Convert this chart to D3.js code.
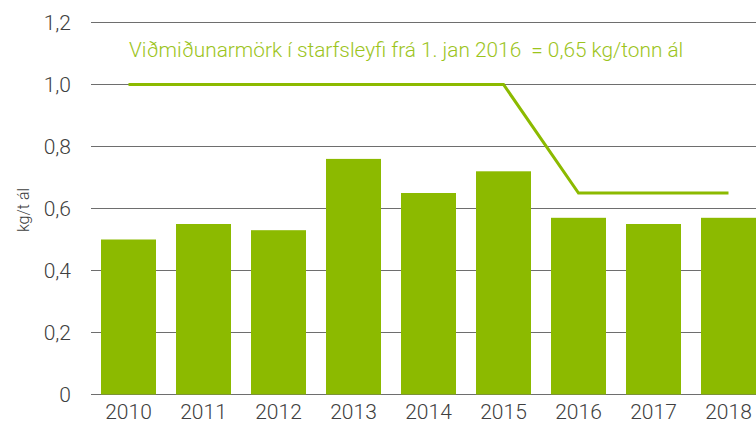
<!DOCTYPE html>
<html>
<head>
<meta charset="utf-8">
<script src="https://cdn.jsdelivr.net/npm/d3@7"></script>
<style>
  body { margin: 0; background: #fff; }
  text { font-family: "Roboto", sans-serif; font-weight: 300; }
</style>
</head>
<body>
<script>
// Data
var years = ["2010", "2011", "2012", "2013", "2014", "2015", "2016", "2017", "2018"];
var values = [0.50, 0.55, 0.53, 0.76, 0.65, 0.72, 0.57, 0.55, 0.57];
var limitYears = ["2010", "2015", "2016", "2018"];
var limitValues = [1.0, 1.0, 0.65, 0.65];
var yTicks = [0, 0.2, 0.4, 0.6, 0.8, 1.0, 1.2];
var limitLabel = "Viðmiðunarmörk í starfsleyfi frá 1. jan 2016  = 0,65 kg/tonn ál";

var svgWidth = 756;
var svgHeight = 423;

var svg = d3.select("body")
  .append("svg")
  .attr("width", svgWidth)
  .attr("height", svgHeight);

var xScale = d3.scaleBand()
  .domain(years)
  .range([91, 766])
  .paddingInner(20 / 75)
  .paddingOuter(10 / 75);

var yScale = d3.scaleLinear()
  .domain([0, 1.2])
  .range([394.5, 22.5]);

// gridlines
svg.append("g")
  .selectAll("line")
  .data(yTicks)
  .enter()
  .append("line")
  .attr("x1", 91)
  .attr("x2", svgWidth)
  .attr("y1", d => yScale(d))
  .attr("y2", d => yScale(d))
  .attr("stroke", "#6e6e6e")
  .attr("stroke-width", 1);

// y tick labels
svg.append("g")
  .selectAll("text")
  .data(yTicks)
  .enter()
  .append("text")
  .attr("x", 71)
  .attr("y", d => yScale(d) + 7.5)
  .attr("text-anchor", "end")
  .attr("font-size", "21px")
  .attr("fill", "#404040")
  .text(d => d === 0 ? "0" : d3.format(".1f")(d).replace(".", ","));

// y axis title
svg.append("text")
  .attr("transform", "translate(29, 210) rotate(-90)")
  .attr("text-anchor", "middle")
  .attr("font-size", "16px")
  .attr("fill", "#404040")
  .text("kg/t ál");

// bars
svg.append("g")
  .selectAll("rect")
  .data(years)
  .enter()
  .append("rect")
  .attr("x", d => xScale(d))
  .attr("y", (d, i) => yScale(values[i]))
  .attr("width", xScale.bandwidth())
  .attr("height", (d, i) => yScale(0) - yScale(values[i]))
  .attr("fill", "#8cba00");

// x labels
svg.append("g")
  .selectAll("text")
  .data(years)
  .enter()
  .append("text")
  .attr("x", d => xScale(d) + xScale.bandwidth() / 2)
  .attr("y", 419)
  .attr("text-anchor", "middle")
  .attr("font-size", "21px")
  .attr("fill", "#404040")
  .text(d => d);

// limit line
var line = d3.line()
  .x((d, i) => xScale(limitYears[i]) + xScale.bandwidth() / 2)
  .y(d => yScale(d));

svg.append("path")
  .datum(limitValues)
  .attr("d", line)
  .attr("fill", "none")
  .attr("stroke", "#8cba00")
  .attr("stroke-width", 3);

// limit label
svg.append("text")
  .attr("x", 129)
  .attr("y", 57)
  .attr("font-size", "20.8px")
  .attr("fill", "#9cc41c")
  .style("white-space", "pre")
  .text(limitLabel);
</script>
</body>
</html>
